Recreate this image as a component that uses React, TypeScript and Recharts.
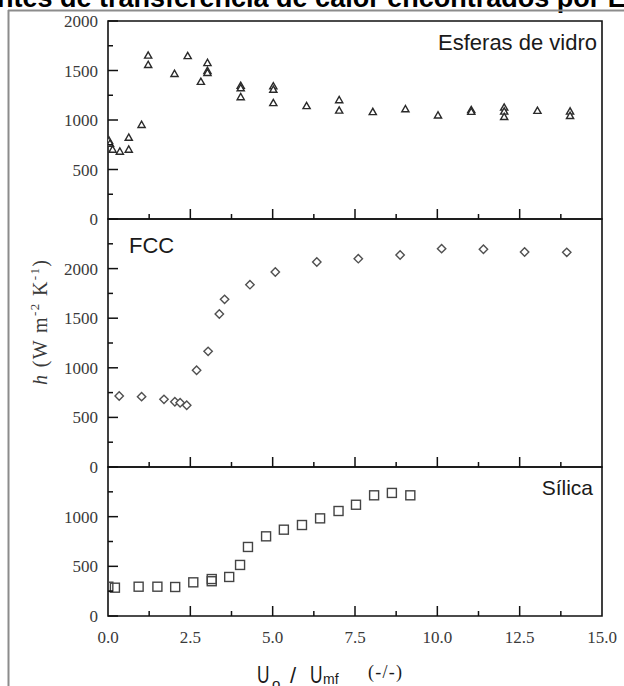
import React from 'react';
import { ScatterChart, Scatter, XAxis, YAxis, ReferenceArea } from 'recharts';

// ---------- data ----------
const glassX = [0.03, 0.06, 0.14, 0.36, 0.63, 0.63, 1.02, 1.22, 1.22, 2.02, 2.42, 2.82, 3.02, 3.02, 3.02, 4.03, 4.03, 4.03, 5.02, 5.02, 5.02, 6.03, 7.02, 7.02, 8.04, 9.03, 10.02, 11.03, 11.03, 12.03, 12.03, 12.03, 13.04, 14.03, 14.03];
const glassH = [790, 760, 700, 680, 700, 820, 950, 1650, 1555, 1465, 1645, 1385, 1575, 1495, 1475, 1345, 1320, 1230, 1340, 1305, 1170, 1140, 1200, 1095, 1080, 1108, 1045, 1100, 1082, 1125, 1085, 1030, 1092, 1085, 1040];

const fccX = [0.34, 1.02, 1.70, 2.03, 2.19, 2.39, 2.69, 3.04, 3.38, 3.54, 4.31, 5.08, 6.34, 7.60, 8.87, 10.13, 11.40, 12.65, 13.93];
const fccH = [716, 709, 682, 658, 648, 622, 975, 1166, 1542, 1690, 1838, 1966, 2066, 2100, 2137, 2201, 2195, 2167, 2164];

const silicaX = [0.01, 0.21, 0.93, 1.50, 2.04, 2.59, 3.15, 3.15, 3.68, 4.01, 4.25, 4.80, 5.34, 5.89, 6.44, 7.00, 7.53, 8.08, 8.62, 9.18];
const silicaH = [295, 285, 295, 295, 292, 339, 350, 372, 393, 514, 695, 802, 869, 916, 983, 1057, 1120, 1215, 1239, 1215];

const xTicks = [0, 1.25, 2.5, 3.75, 5, 6.25, 7.5, 8.75, 10, 11.25, 12.5, 13.75, 15];
const xLabelTicks = [0, 2.5, 5, 7.5, 10, 12.5, 15];
const glassYTicks = [0, 250, 500, 750, 1000, 1250, 1500, 1750, 2000];
const glassYLabels = [0, 500, 1000, 1500, 2000];
const fccYTicks = [0, 250, 500, 750, 1000, 1250, 1500, 1750, 2000, 2250];
const fccYLabels = [0, 500, 1000, 1500, 2000];
const silicaYTicks = [0, 250, 500, 750, 1000, 1250];
const silicaYLabels = [0, 500, 1000];

const panelNames = ['Esferas de vidro', 'FCC', 'Sílica'];
const titleText = 'ntes de transferência de calor encontrados por E';

const toPts = (xs: number[], ys: number[]) => xs.map((x, i) => ({ x, y: ys[i] }));
const glassData = toPts(glassX, glassH);
const fccData = toPts(fccX, fccH);
const silicaData = toPts(silicaX, silicaH);

const SERIF = '"Liberation Serif", "Times New Roman", serif';
const SANS = '"Liberation Sans", Arial, sans-serif';
const AXIS = '#111';
const LABEL = '#3a3a3a';

// ---------- shapes ----------
const Tri = (p: any) => {
  const { cx, cy } = p;
  if (cx == null || cy == null) return null;
  return (
    <polygon
      points={`${cx},${cy - 3.8} ${cx - 3.6},${cy + 2.5} ${cx + 3.6},${cy + 2.5}`}
      fill="#fff"
      stroke="#2a2a2a"
      strokeWidth={1.4}
    />
  );
};
const Dia = (p: any) => {
  const { cx, cy } = p;
  if (cx == null || cy == null) return null;
  return (
    <polygon
      points={`${cx},${cy - 4.2} ${cx + 4.2},${cy} ${cx},${cy + 4.2} ${cx - 4.2},${cy}`}
      fill="#fff"
      stroke="#505050"
      strokeWidth={1.4}
    />
  );
};
const Sq = (p: any) => {
  const { cx, cy } = p;
  if (cx == null || cy == null) return null;
  return <rect x={cx - 4.5} y={cy - 4.5} width={9} height={9} fill="none" stroke="#444" strokeWidth={1.4} />;
};

// ---------- ticks ----------
const makeYTick = (labels: number[]) => (props: any) => {
  const { x, y, payload } = props;
  const v = payload.value;
  const major = v % 500 === 0;
  return (
    <g>
      <line x1={x} x2={x + (major ? 10 : 5)} y1={y} y2={y} stroke={AXIS} strokeWidth={1.5} />
      {labels.includes(v) && (
        <text x={x - 10} y={y + 6} textAnchor="end" fontFamily={SERIF} fontSize={17} fill={LABEL}>
          {v}
        </text>
      )}
    </g>
  );
};
const makeXTick = (showLabels: boolean) => (props: any) => {
  const { x, y, payload } = props;
  const v = payload.value;
  const major = xLabelTicks.includes(v);
  return (
    <g>
      {v > 0 && v < 15 && <line x1={x} x2={x} y1={y} y2={y - (major ? 10 : 5)} stroke={AXIS} strokeWidth={1.5} />}
      {showLabels && major && (
        <text x={x} y={y + 27} textAnchor="middle" fontFamily={SERIF} fontSize={17} fill={LABEL}>
          {v.toFixed(1)}
        </text>
      )}
    </g>
  );
};

type PanelProps = {
  top: number;
  height: number;
  marginTop: number;
  xAxisH: number;
  yMax: number;
  yTicks: number[];
  yLabels: number[];
  data: { x: number; y: number }[];
  shape: any;
  xLabels: boolean;
};

const Panel = (p: PanelProps) => (
  <div style={{ position: 'absolute', left: 0, top: p.top }}>
    <ScatterChart width={624} height={p.height} margin={{ top: p.marginTop, right: 22, left: 0, bottom: 0 }}>
      <XAxis
        type="number"
        dataKey="x"
        domain={[0, 15]}
        ticks={xTicks}
        interval={0}
        height={p.xAxisH}
        axisLine={false}
        tickLine={false}
        tickSize={0}
        tickMargin={0}
        tick={makeXTick(p.xLabels)}
        allowDataOverflow
      />
      <YAxis
        type="number"
        dataKey="y"
        domain={[0, p.yMax]}
        ticks={p.yTicks}
        interval={0}
        width={108}
        axisLine={false}
        tickLine={false}
        tickSize={0}
        tickMargin={0}
        tick={makeYTick(p.yLabels)}
        allowDataOverflow
      />
      <ReferenceArea x1={0} x2={15} y1={0} y2={p.yMax} fill="none" stroke={AXIS} strokeWidth={1.6} ifOverflow="visible" />
      <Scatter data={p.data} shape={p.shape} isAnimationActive={false} />
    </ScatterChart>
  </div>
);

export default function App() {
  return (
    <div style={{ position: 'absolute', left: 0, top: 0, width: 624, height: 686, overflow: 'hidden', background: '#fff' }}>
      <Panel top={0} height={230} marginTop={21} xAxisH={11} yMax={2000} yTicks={glassYTicks} yLabels={glassYLabels} data={glassData} shape={Tri} xLabels={false} />
      <Panel top={210} height={270} marginTop={9} xAxisH={13} yMax={2500} yTicks={fccYTicks} yLabels={fccYLabels} data={fccData} shape={Dia} xLabels={false} />
      <Panel top={460} height={226} marginTop={7} xAxisH={70} yMax={1500} yTicks={silicaYTicks} yLabels={silicaYLabels} data={silicaData} shape={Sq} xLabels={true} />
      <svg width={624} height={686} style={{ position: 'absolute', left: 0, top: 0, pointerEvents: 'none' }}>
        <text x={-3} y={7} fontFamily={SANS} fontWeight="bold" fontSize={27} fill="#000">
          {titleText}
        </text>
        <line x1={8} y1={10.5} x2={624} y2={10.5} stroke="#8c8c8c" strokeWidth={2} />
        <line x1={8.5} y1={10} x2={8.5} y2={686} stroke="#8c8c8c" strokeWidth={2} />
        <text x={597} y={50} textAnchor="end" fontFamily={SANS} fontSize={22} fill="#1a1a1a">
          {panelNames[0]}
        </text>
        <text x={129} y={253} fontFamily={SANS} fontSize={22} fill="#1a1a1a">
          {panelNames[1]}
        </text>
        <text x={593} y={495} textAnchor="end" fontFamily={SANS} fontSize={21} fill="#1a1a1a">
          {panelNames[2]}
        </text>
        <g transform="translate(47,323) rotate(-90)">
          <text x={-62} y={0} fontFamily={SERIF} fontSize={20} fill={LABEL} textLength={125} lengthAdjust="spacing">
            <tspan fontStyle="italic">h</tspan>
            <tspan>{'  (W m'}</tspan>
            <tspan fontSize={13} dy={-8}>{'-2'}</tspan>
            <tspan dy={8}>{' K'}</tspan>
            <tspan fontSize={13} dy={-8}>{'-1'}</tspan>
            <tspan dy={8}>{')'}</tspan>
          </text>
        </g>
        <g>
          <text x={257} y={683} fontFamily={SANS} fontSize={24} fill="#1a1a1a" transform="translate(257,0) scale(0.72,1) translate(-257,0)">
            U
          </text>
          <text x={272} y={689} fontFamily={SANS} fontSize={15} fill="#1a1a1a">o</text>
          <text x={290} y={683} fontFamily={SANS} fontSize={22} fill="#1a1a1a">/</text>
          <text x={310} y={683} fontFamily={SANS} fontSize={24} fill="#1a1a1a" transform="translate(310,0) scale(0.72,1) translate(-310,0)">
            U
          </text>
          <text x={323} y={684} fontFamily={SANS} fontSize={14} fill="#1a1a1a">mf</text>
          <text x={368} y={678} fontFamily={SERIF} fontSize={18} fill="#1a1a1a" textLength={34} lengthAdjust="spacing">(-/-)</text>
        </g>
      </svg>
    </div>
  );
}
